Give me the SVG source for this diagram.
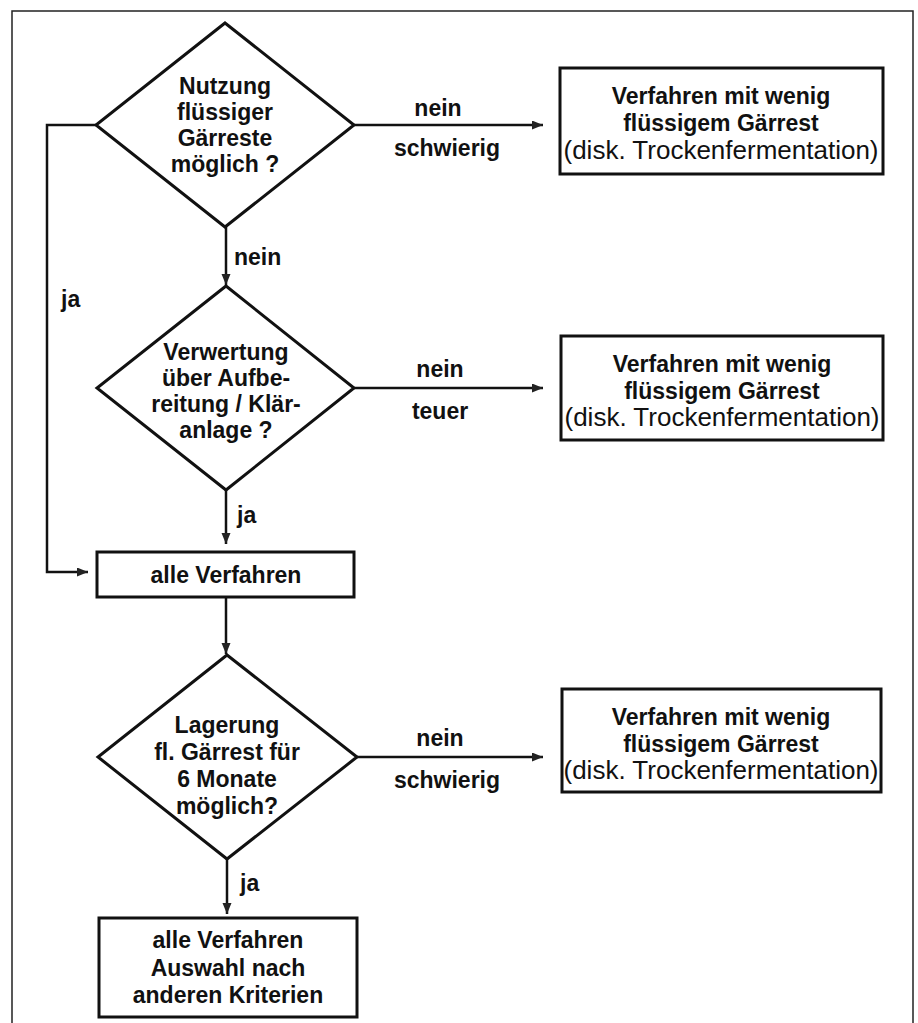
<svg xmlns="http://www.w3.org/2000/svg" width="918" height="1023" viewBox="0 0 918 1023">
<style>
.shape{fill:#fff;stroke:#111;stroke-width:3}
.con{fill:none;stroke:#111;stroke-width:2.5}
.b{font-family:"Liberation Sans",Arial,sans-serif;font-weight:bold;font-size:23px;fill:#111;text-anchor:middle}
.r{font-family:"Liberation Sans",Arial,sans-serif;font-size:26px;fill:#111;text-anchor:middle}
.lb{font-family:"Liberation Sans",Arial,sans-serif;font-weight:bold;font-size:23px;fill:#111}
</style>
<defs>
<marker id="arr" markerUnits="userSpaceOnUse" markerWidth="12" markerHeight="10" refX="11" refY="4.5" orient="auto">
<path d="M0,0 L11,4.5 L0,9 z" fill="#222"/>
</marker>
</defs>
<rect width="918" height="1023" fill="#fff"/>
<path d="M12,1023 L12,11 L913,11 L913,1023" fill="none" stroke="#222" stroke-width="1.5"/>

<g id="connectors">
<line class="con" x1="354" y1="125" x2="543" y2="125" marker-end="url(#arr)"/>
<line class="con" x1="226" y1="227" x2="226" y2="285" marker-end="url(#arr)"/>
<polyline class="con" points="96,125 47,125 47,572 88,572" marker-end="url(#arr)"/>
<line class="con" x1="354" y1="388" x2="543" y2="388" marker-end="url(#arr)"/>
<line class="con" x1="226" y1="490" x2="226" y2="544" marker-end="url(#arr)"/>
<line class="con" x1="226" y1="597" x2="226" y2="654" marker-end="url(#arr)"/>
<line class="con" x1="357" y1="757" x2="543" y2="757" marker-end="url(#arr)"/>
<line class="con" x1="227" y1="859" x2="227" y2="914" marker-end="url(#arr)"/>
<text class="b" x="438" y="116">nein</text>
<text class="b" x="447" y="156">schwierig</text>
<text class="lb" x="234" y="265">nein</text>
<text class="lb" x="61" y="307">ja</text>
<text class="b" x="440" y="377">nein</text>
<text class="b" x="440" y="419">teuer</text>
<text class="lb" x="237" y="523">ja</text>
<text class="b" x="440" y="746">nein</text>
<text class="b" x="447" y="788">schwierig</text>
<text class="lb" x="240" y="891">ja</text>
</g>

<g id="d1">
<polygon class="shape" points="225,23 354,125 225,227 96,125"/>
<text class="b" x="225" y="94">Nutzung</text>
<text class="b" x="225" y="120">flüssiger</text>
<text class="b" x="225" y="146">Gärreste</text>
<text class="b" x="225" y="172">möglich ?</text>
</g>

<g id="box1">
<rect class="shape" x="560" y="68" width="323" height="106"/>
<text class="b" x="721" y="104">Verfahren mit wenig</text>
<text class="b" x="721" y="131">flüssigem Gärrest</text>
<text class="r" x="721" y="159">(disk. Trockenfermentation)</text>
</g>

<g id="d2">
<polygon class="shape" points="226,286 354,388 226,490 97,388"/>
<text class="b" x="226" y="360">Verwertung</text>
<text class="b" x="226" y="386">über Aufbe-</text>
<text class="b" x="226" y="412">reitung / Klär-</text>
<text class="b" x="226" y="438">anlage ?</text>
</g>

<g id="box2">
<rect class="shape" x="561" y="336" width="322" height="104"/>
<text class="b" x="722" y="372">Verfahren mit wenig</text>
<text class="b" x="722" y="399">flüssigem Gärrest</text>
<text class="r" x="722" y="426">(disk. Trockenfermentation)</text>
</g>

<g id="box_alle">
<rect class="shape" x="97" y="552" width="257" height="45"/>
<text class="b" x="226" y="583">alle Verfahren</text>
</g>

<g id="d3">
<polygon class="shape" points="227,655 357,757 227,859 98,757"/>
<text class="b" x="227" y="733">Lagerung</text>
<text class="b" x="227" y="760">fl. Gärrest für</text>
<text class="b" x="227" y="787">6 Monate</text>
<text class="b" x="227" y="814">möglich?</text>
</g>

<g id="box3">
<rect class="shape" x="562" y="689" width="319" height="103"/>
<text class="b" x="721" y="725">Verfahren mit wenig</text>
<text class="b" x="721" y="752">flüssigem Gärrest</text>
<text class="r" x="721" y="779">(disk. Trockenfermentation)</text>
</g>

<g id="box_final">
<rect class="shape" x="99" y="918" width="258" height="99"/>
<text class="b" x="228" y="948">alle Verfahren</text>
<text class="b" x="228" y="976">Auswahl nach</text>
<text class="b" x="228" y="1003">anderen Kriterien</text>
</g>
</svg>
